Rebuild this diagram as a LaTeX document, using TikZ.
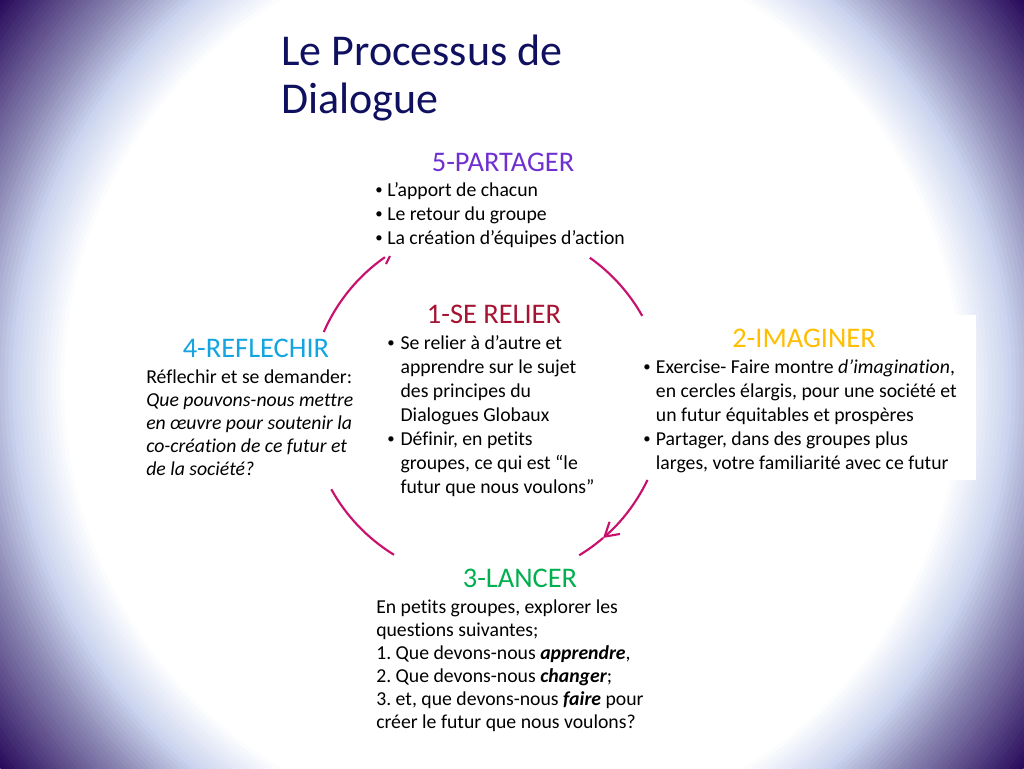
\documentclass[tikz,border=0pt]{standalone}
\usepackage{fontspec}
\setmainfont{Carlito}[Ligatures={NoCommon}]
\usepackage{graphicx}
\usepackage{tikz}
\usetikzlibrary{arrows.meta,calc}

\definecolor{ttlnavy}{RGB}{16,16,96}
\definecolor{sharepurple}{RGB}{112,48,208}
\definecolor{linkred}{RGB}{165,20,50}
\definecolor{imaginegold}{RGB}{255,190,0}
\definecolor{reflectblue}{RGB}{20,165,225}
\definecolor{launchgreen}{RGB}{0,176,80}
\definecolor{arcred}{RGB}{200,16,110}
\definecolor{glowblue}{RGB}{202,212,238}
\definecolor{glowgray}{RGB}{140,136,180}
\definecolor{glowdark}{RGB}{42,12,92}

\newcommand{\blt}[1]{\makebox[#1][l]{\hspace{1.5pt}\raisebox{0.8pt}{\scalebox{0.75}{•}}}}
\frenchspacing

\begin{document}
\begin{tikzpicture}[x=0.75pt,y=0.75pt,yscale=-1,xscale=1,
  steptitle/.style={font=\fontsize{21.3}{25}\selectfont, anchor=base, inner sep=0pt},
  steptext/.style={font=\fontsize{14.8}{18}\selectfont, anchor=base west, inner sep=0pt},
  cyclearc/.style={draw=arcred, line width=1.6pt}]
\useasboundingbox (0,0) rectangle (1024,768);

%Shape: Background glow, rings from the dark corners to the white middle
\coordinate (glow) at (512,384);
\begin{scope}
\clip (0,0) rectangle (1024,768);
\fill [glowdark] (0,0) rectangle (1024,768);
\foreach \r in {640,636,...,552} {
  \pgfmathtruncatemacro{\t}{(640-\r)/92*100}
  \fill [glowgray!\t!glowdark] (glow) circle (\r);
}
\foreach \r in {548,544,...,504} {
  \pgfmathtruncatemacro{\t}{(548-\r)/48*100}
  \fill [glowblue!\t!glowgray] (glow) circle (\r);
}
\foreach \r in {500,496,...,448} {
  \pgfmathtruncatemacro{\t}{(500-\r)/52*100}
  \fill [white!\t!glowblue] (glow) circle (\r);
}
\end{scope}
%Shape: Rectangle [white box of 2-IMAGINER]
\fill [white] (620,315) rectangle (976,480);

\coordinate (hub) at (487,403);

%Curve Lines [4 -> 5]
\draw [cyclearc] ($(hub)+(203.5:178)$) arc [start angle=203.5, end angle=235, radius=178];
\draw [cyclearc] (390,256) -- (386,264);
%Curve Lines [5 -> 2]
\draw [cyclearc] ($(hub)+(305.3:178)$) arc [start angle=305.3, end angle=330.7, radius=178];
%Curve Lines [2 -> 3]
\draw [cyclearc, -{Straight Barb[length=10pt,width=12pt]}] ($(hub)+(25.6:178)$) arc [start angle=25.6, end angle=49.3, radius=178];
\draw [cyclearc] ($(hub)+(49.3:178)$) arc [start angle=49.3, end angle=58.8, radius=178];
%Curve Lines [3 -> 4]
\draw [cyclearc] ($(hub)+(121.5:178)$) arc [start angle=121.5, end angle=151, radius=178];

% Text Node
\draw (281,65) node (ttlmain) [anchor=base west, inner sep=0pt, font=\fontsize{33}{36}\selectfont, text=ttlnavy] {\begin{tabular}[t]{@{}l@{}}Le Processus de\\Dialogue\end{tabular}};
% Text Node
\draw (503,171) node (ttlshare) [steptitle, text=sharepurple] {5-PARTAGER};
% Text Node
\draw (373,196) node (txtshare) [steptext] {\begin{tabular}[t]{@{}l@{}l@{}}
\blt{10.5pt} & L’apport de chacun\\
\blt{10.5pt} & Le retour du groupe\\
\blt{10.5pt} & La création d’équipes d’action
\end{tabular}};
% Text Node
\draw (494,323) node (ttllink) [steptitle, text=linkred] {1-SE RELIER};
% Text Node
\draw (385,349) node (txtlink) [steptext] {\begin{tabular}[t]{@{}l@{}l@{}}
\blt{11.5pt} & Se relier à d’autre et\\
 & apprendre sur le sujet\\
 & des principes du\\
 & Dialogues Globaux\\
\blt{11.5pt} & Définir, en petits\\
 & groupes, ce qui est “le\\
 & futur que nous voulons”
\end{tabular}};
% Text Node
\draw (804,347) node (ttlimagine) [steptitle, text=imaginegold] {2-IMAGINER};
% Text Node
\draw (641,373) node (txtimagine) [steptext] {\begin{tabular}[t]{@{}l@{}l@{}}
\blt{11pt} & Exercise- Faire montre \textit{d’imagination},\\
 & en cercles élargis, pour une société et\\
 & un futur équitables et prospères\\
\blt{11pt} & Partager, dans des groupes plus\\
 & larges, votre familiarité avec ce futur
\end{tabular}};
% Text Node
\draw (256,357) node (ttlreflect) [steptitle, text=reflectblue] {4-REFLECHIR};
% Text Node
\draw (146,383) node (txtreflect) [steptext, font=\fontsize{14.8}{17.3}\selectfont] {\begin{tabular}[t]{@{}l@{}}
Réflechir et se demander:\\
\textit{Que pouvons-nous mettre}\\
\textit{en œuvre pour soutenir la}\\
\textit{co-création de ce futur et}\\
\textit{de la société?}
\end{tabular}};
% Text Node
\draw (520,587) node (ttllaunch) [steptitle, text=launchgreen] {3-LANCER};
% Text Node
\draw (376,613) node (txtlaunch) [steptext, font=\fontsize{14.8}{17.3}\selectfont] {\begin{tabular}[t]{@{}l@{}}
En petits groupes, explorer les\\
questions suivantes;\\
1. Que devons-nous \textbf{\textit{apprendre}},\\
2. Que devons-nous \textbf{\textit{changer}};\\
3. et, que devons-nous \textbf{\textit{faire}} pour\\
créer le futur que nous voulons?
\end{tabular}};

\end{tikzpicture}
\end{document}
